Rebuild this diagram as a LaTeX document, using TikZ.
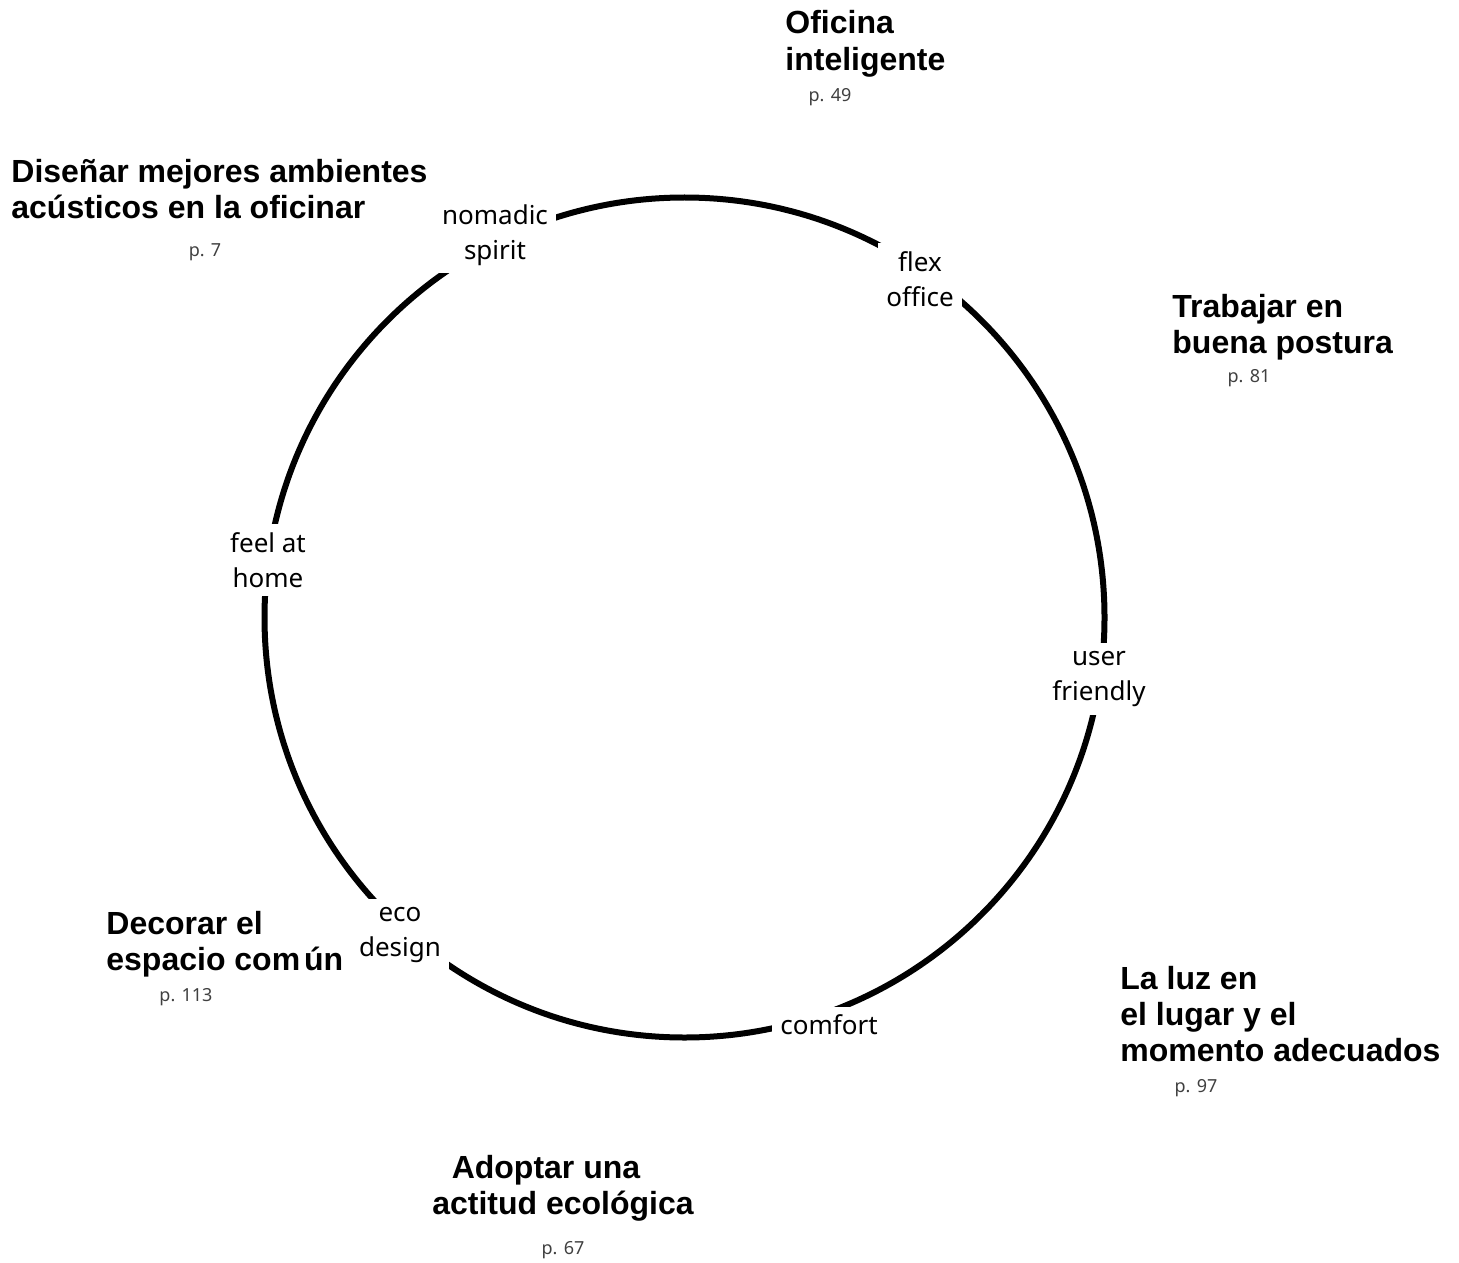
\documentclass[tikz,border=0pt]{standalone}
\usepackage{fontspec}
\setmainfont{Liberation Sans}
\newfontfamily\labfont{Noto Sans}
\begin{document}
\begin{tikzpicture}[x=0.5pt,y=-0.5pt,
  ring/.style={line width=3pt},
  lab/.style={fill=white,inner sep=4pt,align=center,font=\labfont\fontsize{13}{17.5}\selectfont},
  head/.style={inner sep=0pt,align=left,font=\bfseries\fontsize{16}{18.2}\selectfont},
  pg/.style={inner sep=0pt,text=black!75,font=\labfont\fontsize{9}{11}\selectfont}]
\useasboundingbox (0,0) rectangle (1459,1262);
\node[circle,ring,draw,minimum size=840*0.5pt,inner sep=0pt] (ring) at (684.5,617.5) {};
\node[lab] (nomad) at (495,235) {nomadic\\spirit};
\node[lab] (flex) at (920,279) {flex\\office};
\node[lab] (home) at (268,560) {feel at\\home};
\node[lab] (user) at (1099,679) {user\\friendly};
\node[lab] (eco) at (400,935) {eco\\design};
\node[lab] (comfort) at (829,1025) {comfort};
\node[head,anchor=west] (h1) at (785,44) {Oficina\\inteligente};
\node[pg] (p1) at (830,97) {p. 49};
\node[head,anchor=west] (h2) at (11,189) {Diseñar mejores ambientes\\acústicos en la oficinar};
\node[pg] (p2) at (205,252) {p. 7};
\node[head,anchor=west] (h3) at (1172,327) {Trabajar en\\buena postura};
\node[pg] (p3) at (1249,378) {p. 81};
\node[head,anchor=west] (h4) at (1120,1014) {La luz en\\el lugar y el\\momento adecuados};
\node[pg] (p4) at (1196,1088) {p. 97};
\node[head] (h5a) at (546,1170) {Adoptar una};
\node[head] (h5b) at (563,1206) {actitud ecológica};
\node[pg] (p5) at (563,1250) {p. 67};
\node[head,anchor=west] (h6) at (106,944) {Decorar el\\espacio com\hspace{0.12em}ún};
\node[pg] (p6) at (186,997) {p. 113};
\end{tikzpicture}
\end{document}
